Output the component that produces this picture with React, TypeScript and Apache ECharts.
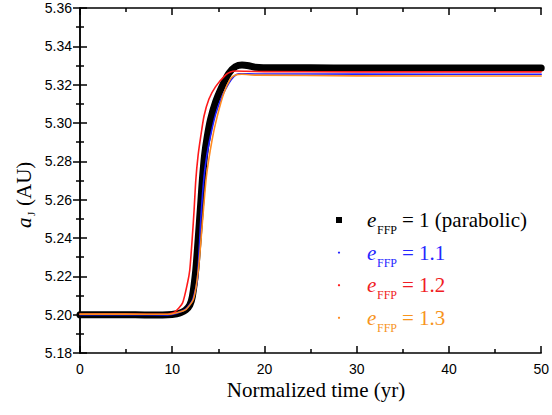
import React, { useEffect, useRef } from "react";
import * as echarts from "echarts";

// ---- data ----
const xTicks = [0, 10, 20, 30, 40, 50];
const yTicks = ["5.18", "5.20", "5.22", "5.24", "5.26", "5.28", "5.30", "5.32", "5.34", "5.36"];

const tBlack = [0, 2, 4, 6, 8, 9.5, 10.5, 11.0, 11.47, 11.9, 12.18, 12.55, 12.83, 13.09, 13.26, 13.5, 13.8, 14.16, 14.7, 15.41, 16.13, 16.85, 17.56, 18.3, 19.0, 21, 25, 30, 35, 40, 45, 50];
const vBlack = [5.1999, 5.2000, 5.2000, 5.1999, 5.1998, 5.1999, 5.2005, 5.2012, 5.2025, 5.2050, 5.2094, 5.2233, 5.2407, 5.2581, 5.2700, 5.2830, 5.2930, 5.3020, 5.3110, 5.3192, 5.3259, 5.3294, 5.3303, 5.3299, 5.3291, 5.3288, 5.3288, 5.3287, 5.3287, 5.3287, 5.3287, 5.3287];

const tBlue = [0, 5, 9.5, 10.5, 11.5, 12.2, 12.72, 13.09, 13.45, 13.8, 14.16, 14.7, 15.41, 16.13, 16.67, 17.2, 19, 30, 50];
const vBlue = [5.2000, 5.2000, 5.1999, 5.2008, 5.2030, 5.2075, 5.2181, 5.2494, 5.2720, 5.2845, 5.2935, 5.3045, 5.3140, 5.3207, 5.3242, 5.3257, 5.3256, 5.3255, 5.3254];

const tRed = [0, 5, 9.5, 10.3, 11.11, 11.65, 11.9, 12.18, 12.37, 12.55, 12.8, 13.09, 13.44, 13.98, 14.7, 15.77, 16.31, 16.85, 18, 20, 30, 50];
const vRed = [5.2002, 5.2003, 5.2002, 5.2015, 5.2060, 5.2164, 5.2233, 5.2407, 5.2546, 5.2700, 5.2830, 5.2930, 5.3035, 5.3125, 5.3190, 5.3250, 5.3266, 5.3271, 5.3270, 5.3268, 5.3267, 5.3267];

const tOrange = [0, 5, 9.5, 10.5, 11.5, 12.3, 12.83, 13.3, 13.7, 14.33, 14.87, 15.59, 16.31, 16.85, 17.56, 19, 30, 50];
const vOrange = [5.2003, 5.2003, 5.2002, 5.2010, 5.2028, 5.2080, 5.2233, 5.2500, 5.2720, 5.2915, 5.3033, 5.3155, 5.3230, 5.3250, 5.3254, 5.3250, 5.3246, 5.3245];

const seriesNames = ["= 1 (parabolic)", "= 1.1", "= 1.2", "= 1.3"];
const seriesColors = ["#000000", "#1f1fff", "#ff1a1a", "#ff8a1f"];
const textColors = ["#000000", "#2626ff", "#f01c24", "#f7941d"];

const zip = (t: number[], v: number[]) => t.map((x, i) => [x, v[i]]);

const SERIF = "'Liberation Serif', 'Times New Roman', Times, 'DejaVu Serif', serif";
const SANS = "'Liberation Sans', Arial, Helvetica, sans-serif";

export default function App() {
  const ref = useRef<HTMLDivElement>(null);
  useEffect(() => {
    if (!ref.current) return;
    const chart = echarts.init(ref.current, null, { renderer: "svg" });
    const axisLine = { lineStyle: { color: "#000", width: 1.5 } };
    const tick = { inside: true, length: 7, lineStyle: { color: "#000", width: 1.5 } };
    const minor = { show: true, splitNumber: 2, length: 4, lineStyle: { color: "#000", width: 1.5 } };
    const lineSeries = (name: string, data: number[][], color: string, width: number) => ({
      name,
      type: "line",
      data,
      smooth: 0.2,
      showSymbol: false,
      symbol: "none",
      lineStyle: { color, width, cap: "round", join: "round" },
      itemStyle: { color },
      z: 2,
    });
    const txt = (x: number, y: number, text: string, size: number, color: string, italic = false) => ({
      type: "text", x, y,
      style: { text, fontFamily: SERIF, fontSize: size, fontStyle: italic ? "italic" : "normal", fill: color, verticalAlign: "middle", align: "left" },
    });
    const legendRows = seriesNames.map((n, i) => {
      const base = 227 + i * 32.6;
      return [
        i === 0
          ? { type: "rect", shape: { x: 336, y: base - 10, width: 6, height: 6 }, style: { fill: "#000" } }
          : { type: "circle", shape: { cx: 339, cy: base - 7, r: 1.1 }, style: { fill: seriesColors[i] } },
        txt(367, base - 7.1, "e", 21, textColors[i], true),
        txt(377, base + 7 - 4, "FFP", 12, textColors[i]),
        txt(402, base - 7.1, n, 21, textColors[i]),
      ];
    }).flat();

    chart.setOption({
      animation: false,
      grid: { left: 80, right: 7, top: 8, bottom: 62 },
      xAxis: [
        {
          type: "value", min: xTicks[0], max: xTicks[xTicks.length - 1], interval: 10,
          axisLine, axisTick: tick, minorTick: minor, splitLine: { show: false },
          axisLabel: { color: "#000", fontSize: 14, fontFamily: SANS, margin: 9 },
        },
        {
          type: "value", position: "top", min: 0, max: 50, interval: 10,
          axisLine, axisTick: tick, minorTick: minor, splitLine: { show: false }, axisLabel: { show: false },
        },
      ],
      yAxis: [
        {
          type: "value", min: Number(yTicks[0]), max: Number(yTicks[yTicks.length - 1]), interval: 0.02,
          axisLine, axisTick: tick, minorTick: minor, splitLine: { show: false },
          axisLabel: { color: "#000", fontSize: 14, fontFamily: SANS, margin: 8, formatter: (v: number) => v.toFixed(2) },
        },
        {
          type: "value", position: "right", min: 5.18, max: 5.36, interval: 0.02,
          axisLine, axisTick: tick, minorTick: minor, splitLine: { show: false }, axisLabel: { show: false },
        },
      ],
      series: [
        lineSeries(seriesNames[0], zip(tBlack, vBlack), seriesColors[0], 7),
        lineSeries(seriesNames[1], zip(tBlue, vBlue), seriesColors[1], 1.6),
        lineSeries(seriesNames[2], zip(tRed, vRed), seriesColors[2], 1.6),
        lineSeries(seriesNames[3], zip(tOrange, vOrange), seriesColors[3], 1.6),
      ],
      graphic: [
        ...legendRows,
        { type: "text", x: 316, y: 390, style: { text: "Normalized time (yr)", fontFamily: SERIF, fontSize: 21, fill: "#000", align: "center", verticalAlign: "middle" } },
        {
          type: "group", x: 31, y: 228, rotation: Math.PI / 2,
          children: [
            txt(0, -7, "a", 21, "#000", true),
            txt(12, -0.5, "J", 11, "#000"),
            txt(22, -7, "(AU)", 21, "#000"),
          ],
        },
      ],
    });
    return () => chart.dispose();
  }, []);
  return <div ref={ref} style={{ width: 552, height: 415, position: "absolute", left: 0, top: 0 }} />;
}
